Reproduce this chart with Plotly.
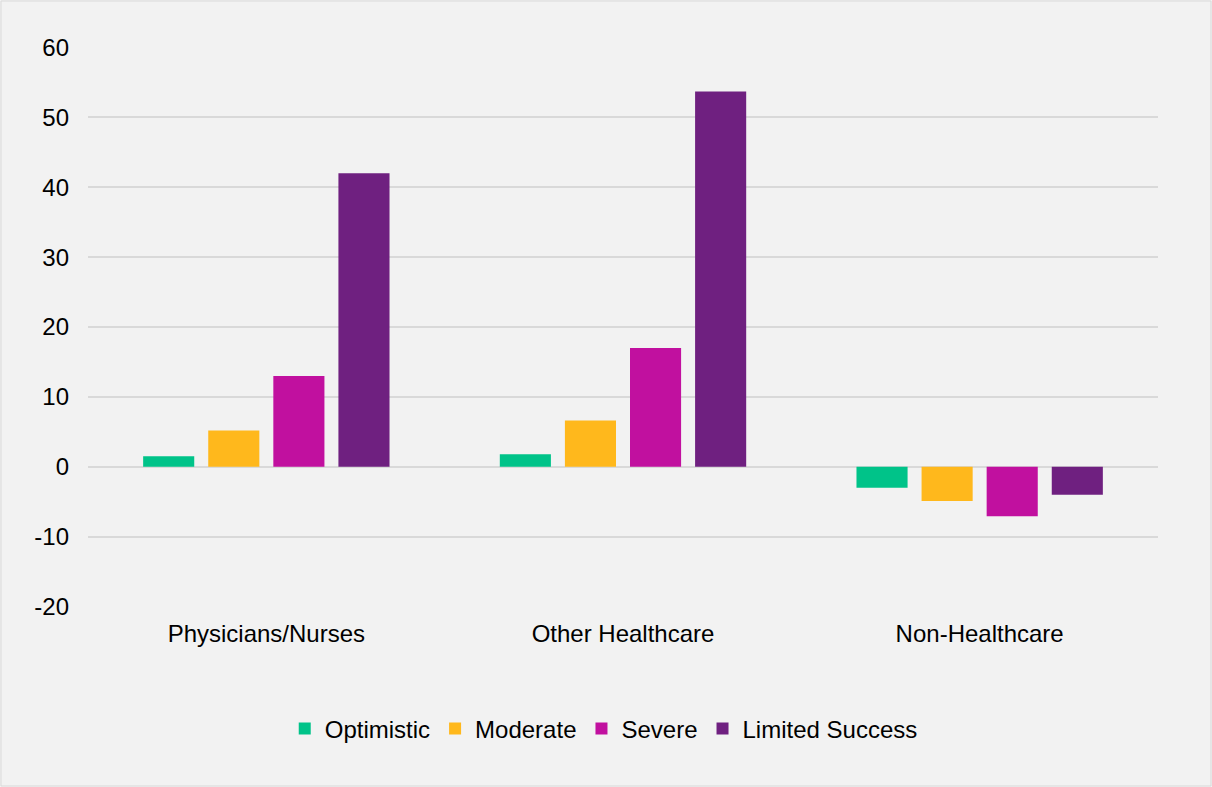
import plotly.graph_objects as go

categories = ["Physicians/Nurses", "Other Healthcare", "Non-Healthcare"]
series_names = ["Optimistic", "Moderate", "Severe", "Limited Success"]
optimistic = [1.5, 1.8, -3.0]
moderate = [5.2, 6.6, -4.9]
severe = [13.0, 17.0, -7.1]
limited = [42.0, 53.7, -4.0]
colors = ["#00c389", "#ffb81c", "#c1109f", "#6f2080"]
tick_vals = [-20, -10, 0, 10, 20, 30, 40, 50, 60]
tick_text = ["-20", "-10", "0", "10", "20", "30", "40", "50", "60"]

values = [optimistic, moderate, severe, limited]

fig = go.Figure()
for name, vals, col in zip(series_names, values, colors):
    fig.add_trace(go.Bar(x=categories, y=vals, name=name, marker=dict(color=col, line=dict(width=0))))

W, H = 1212, 787
ml, mr, mt, mb = 88, 54, 47, 180
pw, ph = W - ml - mr, H - mt - mb

fig.update_layout(
    width=W, height=H,
    margin=dict(l=ml, r=mr, t=mt, b=mb),
    paper_bgcolor="#f2f2f2", plot_bgcolor="#f2f2f2",
    barmode="group", bargap=0.27, bargroupgap=0.215,
    font=dict(family="Liberation Sans, Arial, sans-serif", size=24, color="#000000"),
    showlegend=True,
    legend=dict(orientation="h", x=0.482, xanchor="center", y=-(729 - 607) / ph, yanchor="middle",
                font=dict(size=24), itemwidth=30, traceorder="normal"),
    xaxis=dict(showgrid=False, ticks="", showline=False, tickfont=dict(size=24), ticklabelstandoff=10),
    yaxis=dict(range=[-20.08, 60.08], tickvals=tick_vals, ticktext=tick_text, showgrid=True,
               gridcolor="#d9d9d9", gridwidth=2,
               zeroline=True, zerolinecolor="#d9d9d9", zerolinewidth=2, ticks="", showline=False,
               tickfont=dict(size=24), ticklabelstandoff=18),
)
fig.add_shape(type="rect", xref="paper", yref="paper",
              x0=-(ml - 1) / pw, x1=1 + (mr - 1) / pw, y0=-(mb - 1) / ph, y1=1 + (mt - 1) / ph,
              line=dict(color="#d9d9d9", width=1), fillcolor="rgba(0,0,0,0)", layer="below")
fig.write_html("out.html")
